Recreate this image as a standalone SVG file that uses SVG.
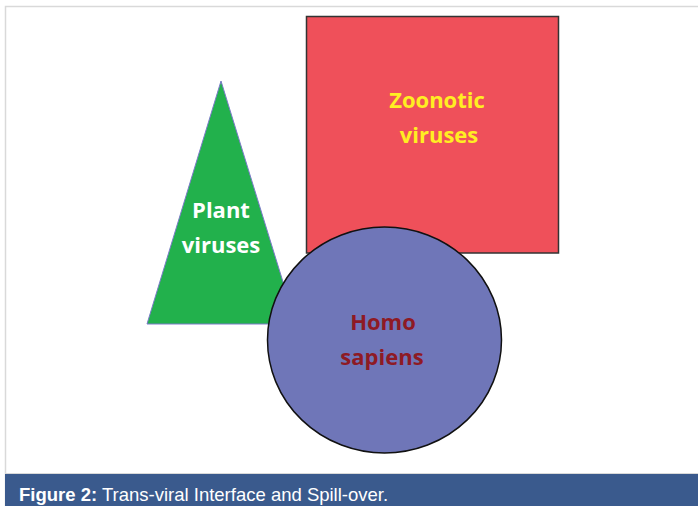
<svg xmlns="http://www.w3.org/2000/svg" width="698" height="506" viewBox="0 0 698 506">
  <style>
    .lbl { font-family: "Open Sans", "DejaVu Sans", sans-serif; font-weight: bold; font-size: 22px; text-anchor: middle; }
    .cap { font-family: "Liberation Sans", Arial, sans-serif; font-size: 18.5px; fill: #ffffff; }
  </style>
  <rect x="0" y="0" width="698" height="506" fill="#ffffff"/>
  <path d="M5.5 506 V6.5 H698" fill="none" stroke="#d9d9d9" stroke-width="1.5"/>
  <line x1="5" y1="473.5" x2="698" y2="473.5" stroke="#d9d9d9" stroke-width="1"/>
  <g id="zoonotic">
    <rect x="306.5" y="16.5" width="252" height="236.5" fill="#ef505a" stroke="#333333" stroke-width="1.5"/>
    <text class="lbl" x="437" y="108" fill="#ffee22">Zoonotic</text>
    <text class="lbl" x="439" y="143" fill="#ffee22">viruses</text>
  </g>
  <g id="plant">
    <polygon points="221,81 147,324 296,324" fill="#22b14c" stroke="#7a7ac8" stroke-width="1"/>
    <text class="lbl" x="221" y="218" fill="#ffffff">Plant</text>
    <text class="lbl" x="221" y="253" fill="#ffffff">viruses</text>
  </g>
  <g id="homo">
    <ellipse cx="384.5" cy="340" rx="117" ry="113" fill="#6f76b8" stroke="#111111" stroke-width="1.5"/>
    <text class="lbl" x="383" y="330" fill="#8e1a24">Homo</text>
    <text class="lbl" x="382" y="365" fill="#8e1a24">sapiens</text>
  </g>
  <g id="caption">
    <rect x="5" y="474" width="693" height="32" fill="#3a5a8d"/>
    <text class="cap" x="19" y="501"><tspan font-weight="bold">Figure 2:</tspan> Trans-viral Interface and Spill-over.</text>
  </g>
</svg>
